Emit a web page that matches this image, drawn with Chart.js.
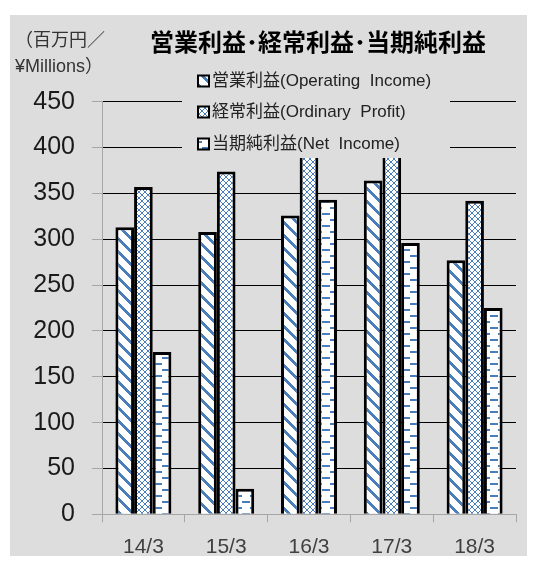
<!DOCTYPE html>
<html>
<head>
<meta charset="utf-8">
<script src="https://cdn.jsdelivr.net/npm/chart.js@4.4.1/dist/chart.umd.min.js"></script>
<style>
html, body { margin: 0; padding: 0; background: #ffffff; }
#wrap { position: absolute; left: 10px; top: 15px; width: 517px; height: 541px; background: #dddddd; }
</style>
</head>
<body>
<div id="wrap"><canvas id="profitChart" width="517" height="541"></canvas></div>
<script>
var categories = ['14/3', '15/3', '16/3', '17/3', '18/3'];
var operatingIncome = [313, 308, 326, 364, 277];
var ordinaryProfit = [357, 374, 410, 420, 342];
var netIncome = [177, 28, 343, 296, 225];
var seriesLabels = ['営業利益(Operating  Income)', '経常利益(Ordinary  Profit)', '当期純利益(Net  Income)'];
var chartTitle = '営業利益･経常利益･当期純利益';
var unitLabel = ['（百万円／', '¥Millions）'];
var yMax = 450;
var yStep = 50;

var BG = '#dddddd';
var BLUE = '#4a7ebb';

var ctx = document.getElementById('profitChart').getContext('2d');

// small bitmap fills, like the excel pattern fills
function makePattern(w, h, isBlue) {
  var c = document.createElement('canvas');
  c.width = w; c.height = h;
  var g = c.getContext('2d');
  g.fillStyle = '#ffffff';
  g.fillRect(0, 0, w, h);
  g.fillStyle = BLUE;
  for (var y = 0; y < h; y++) {
    for (var x = 0; x < w; x++) {
      if (isBlue(x, y)) g.fillRect(x, y, 1, 1);
    }
  }
  return ctx.createPattern(c, 'repeat');
}

var stripes = makePattern(13, 13, function (x, y) { return ((x - y + 13) % 13) < 4; });
var diamonds = makePattern(6, 6, function (x, y) { return x === y || x === 5 - y; });
var dashes = makePattern(16, 12, function (x, y) {
  return (y < 2 && x < 8) || (y >= 6 && y < 8 && x >= 8);
});

var overlay = {
  id: 'overlay',
  afterDraw: function (chart) {
    var c = chart.ctx;
    c.save();
    // unit label
    c.fillStyle = '#333333';
    c.textAlign = 'left';
    c.textBaseline = 'middle';
    c.font = '18px "Liberation Sans", "Noto Sans CJK JP"';
    c.fillText(unitLabel[0], 5, 26);
    c.fillText(unitLabel[1], 5, 52);
    // title
    c.fillStyle = '#000000';
    c.textAlign = 'center';
    c.font = 'bold 24px "Noto Sans CJK JP"';
    c.fillText(chartTitle, 308, 27);
    // legend box sits over the plot and hides what is under it
    c.fillStyle = BG;
    c.fillRect(172, 51, 268, 92);
    var rows = [66, 97, 129];
    c.textAlign = 'left';
    c.font = '17px "Liberation Sans", "Noto Sans CJK JP"';
    chart.data.datasets.forEach(function (ds, i) {
      c.fillStyle = ds.backgroundColor;
      c.fillRect(188, rows[i] - 5.5, 11, 11);
      c.lineWidth = 2;
      c.strokeStyle = '#000000';
      c.strokeRect(188, rows[i] - 5.5, 11, 11);
      c.fillStyle = '#222222';
      c.fillText(ds.label, 202, rows[i]);
    });
    c.restore();
  }
};

var profitChart = new Chart(ctx, {
  type: 'bar',
  data: {
    labels: categories,
    datasets: [{
      label: seriesLabels[0],
      data: operatingIncome,
      backgroundColor: stripes,
      borderColor: '#000000',
      borderWidth: 3
    }, {
      label: seriesLabels[1],
      data: ordinaryProfit,
      backgroundColor: diamonds,
      borderColor: '#000000',
      borderWidth: 3
    }, {
      label: seriesLabels[2],
      data: netIncome,
      backgroundColor: dashes,
      borderColor: '#000000',
      borderWidth: 3
    }]
  },
  options: {
    responsive: false,
    animation: false,
    categoryPercentage: 0.676,
    barPercentage: 1.0,
    layout: { padding: { left: 0, right: 11, top: 86.7, bottom: 0 } },
    plugins: {
      legend: { display: false },
      title: { display: false },
      tooltip: { enabled: false }
    },
    scales: {
      x: {
        grid: { drawOnChartArea: false, drawTicks: true, tickLength: 8, color: '#a6a6a6', offset: true },
        border: { color: '#a6a6a6', width: 1 },
        ticks: { color: '#404040', font: { family: 'Liberation Sans', size: 21 }, padding: 12 },
        afterFit: function (s) { s.height = 41.7; }
      },
      y: {
        min: 0,
        max: yMax,
        ticks: { stepSize: yStep, color: '#1a1a1a', font: { family: 'Liberation Sans', size: 25 }, padding: 17 },
        grid: {
          color: function (c) { return c.tick && c.tick.value === 0 ? 'rgba(0,0,0,0)' : '#000000'; },
          tickColor: '#a6a6a6',
          tickLength: 10,
          lineWidth: 1
        },
        border: { color: '#a6a6a6', width: 1 },
        afterFit: function (s) { s.width = 92; }
      }
    }
  },
  plugins: [overlay]
});
</script>
</body>
</html>
